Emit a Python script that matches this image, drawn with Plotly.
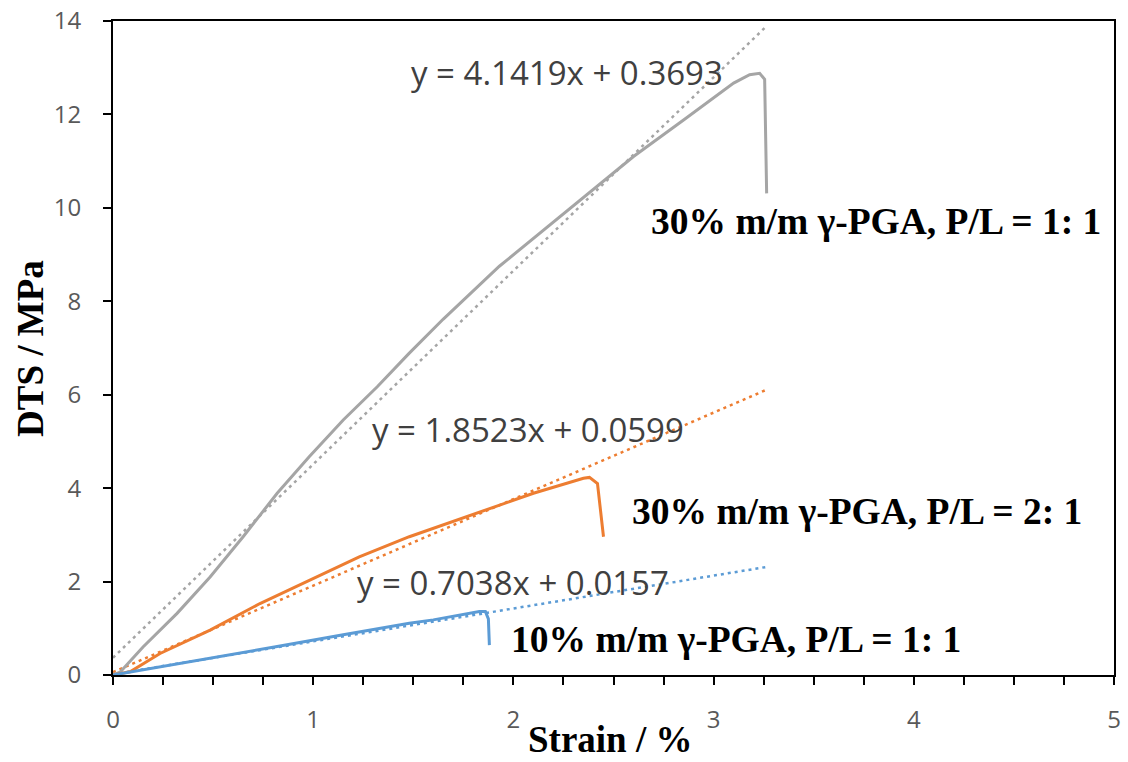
import plotly.graph_objects as go

# ---- data ----
gray_x = [0.0, 0.035, 0.15, 0.32, 0.485, 0.65, 0.82, 0.98, 1.15, 1.32, 1.48, 1.65, 1.93, 2.27, 2.60, 2.85, 3.10, 3.18, 3.23, 3.255, 3.265]
gray_y = [0.0, 0.06, 0.60, 1.32, 2.10, 2.96, 3.89, 4.67, 5.46, 6.17, 6.89, 7.62, 8.75, 9.95, 11.10, 11.88, 12.67, 12.85, 12.88, 12.75, 10.31]

orange_x = [0.0, 0.085, 0.235, 0.485, 0.734, 0.984, 1.23, 1.48, 1.77, 2.10, 2.35, 2.38, 2.42, 2.45]
orange_y = [0.0, 0.07, 0.46, 0.96, 1.53, 2.03, 2.53, 2.96, 3.39, 3.89, 4.21, 4.23, 4.10, 2.96]

blue_x = [0.0, 0.15, 0.485, 0.82, 1.15, 1.48, 1.60, 1.83, 1.86, 1.875, 1.88]
blue_y = [0.0, 0.11, 0.36, 0.61, 0.86, 1.11, 1.18, 1.36, 1.36, 1.20, 0.64]

# linear trendlines (slope, intercept) and their x span
trend_slopes = [4.1419, 1.8523, 0.7038]
trend_intercepts = [0.3693, 0.0599, 0.0157]
trend_x_range = [0.0, 3.265]

equation_labels = ["y = 4.1419x + 0.3693", "y = 1.8523x + 0.0599", "y = 0.7038x + 0.0157"]
series_labels = ["30% m/m γ-PGA, P/L = 1: 1", "30% m/m γ-PGA, P/L = 2: 1", "10% m/m γ-PGA, P/L = 1: 1"]

colors = ["#A5A5A5", "#ED7D31", "#5B9BD5"]
xs = [gray_x, orange_x, blue_x]
ys = [gray_y, orange_y, blue_y]

fig = go.Figure()

for i in range(3):
    tx = trend_x_range
    ty = [trend_slopes[i] * v + trend_intercepts[i] for v in tx]
    fig.add_trace(go.Scatter(x=tx, y=ty, mode="lines",
                             line=dict(color=colors[i], width=2.5, dash="3px,4px"),
                             showlegend=False, hoverinfo="skip"))
for i in range(3):
    fig.add_trace(go.Scatter(x=xs[i], y=ys[i], mode="lines",
                             line=dict(color=colors[i], width=3),
                             showlegend=False))

eq_pos = [(2.27, 12.89), (2.075, 5.245), (2.0, 1.99)]
for (ex, ey), txt in zip(eq_pos, equation_labels):
    fig.add_annotation(x=ex, y=ey, text=txt, showarrow=False, xanchor="center", yanchor="middle",
                       font=dict(family="Open Sans", size=33, color="#404040"))

lab_pos = [(3.809, 9.70), (3.716, 3.51), (3.112, 0.75)]
for (lx, ly), txt in zip(lab_pos, series_labels):
    fig.add_annotation(x=lx, y=ly, text="<b>" + txt + "</b>", showarrow=False,
                       xanchor="center", yanchor="middle",
                       font=dict(family="Liberation Serif", size=37.5, color="black"))

# axis titles placed as paper annotations
fig.add_annotation(xref="paper", yref="paper", x=0.4965, y=-0.099, text="<b>Strain / %</b>",
                   showarrow=False, xanchor="center", yanchor="middle",
                   font=dict(family="Liberation Serif", size=37, color="black"))
fig.add_annotation(xref="paper", yref="paper", x=-0.083, y=0.5, text="<b>DTS / MPa</b>",
                   showarrow=False, xanchor="center", yanchor="middle", textangle=-90,
                   font=dict(family="Liberation Serif", size=37, color="black"))

fig.update_layout(
    width=1128, height=762,
    margin=dict(l=113, r=14, t=21, b=87, autoexpand=False),
    paper_bgcolor="white", plot_bgcolor="white",
    showlegend=False,
)
fig.update_xaxes(
    range=[0, 5], dtick=1, tick0=0, automargin=False,
    showgrid=False, zeroline=False,
    showline=True, linecolor="black", linewidth=2, mirror=True,
    ticks="outside", ticklen=8, tickwidth=2, tickcolor="black",
    minor=dict(dtick=0.25, ticks="outside", ticklen=8, tickwidth=2, tickcolor="black", showgrid=False),
    tickfont=dict(family="Open Sans", size=24, color="#595959"),
    ticklabelstandoff=14,
)
fig.update_yaxes(
    range=[0, 14], dtick=2, tick0=0, automargin=False,
    showgrid=False, zeroline=False,
    showline=True, linecolor="black", linewidth=2, mirror=True,
    ticks="outside", ticklen=8, tickwidth=2, tickcolor="black",
    tickfont=dict(family="Open Sans", size=24, color="#595959"),
    ticklabelstandoff=17,
)

# remove the default page margin so the 1128x762 figure fills the window exactly
fig.write_html("out.html", config={"displayModeBar": False},
               post_script="document.body.style.margin='0';document.body.style.overflow='hidden';")
